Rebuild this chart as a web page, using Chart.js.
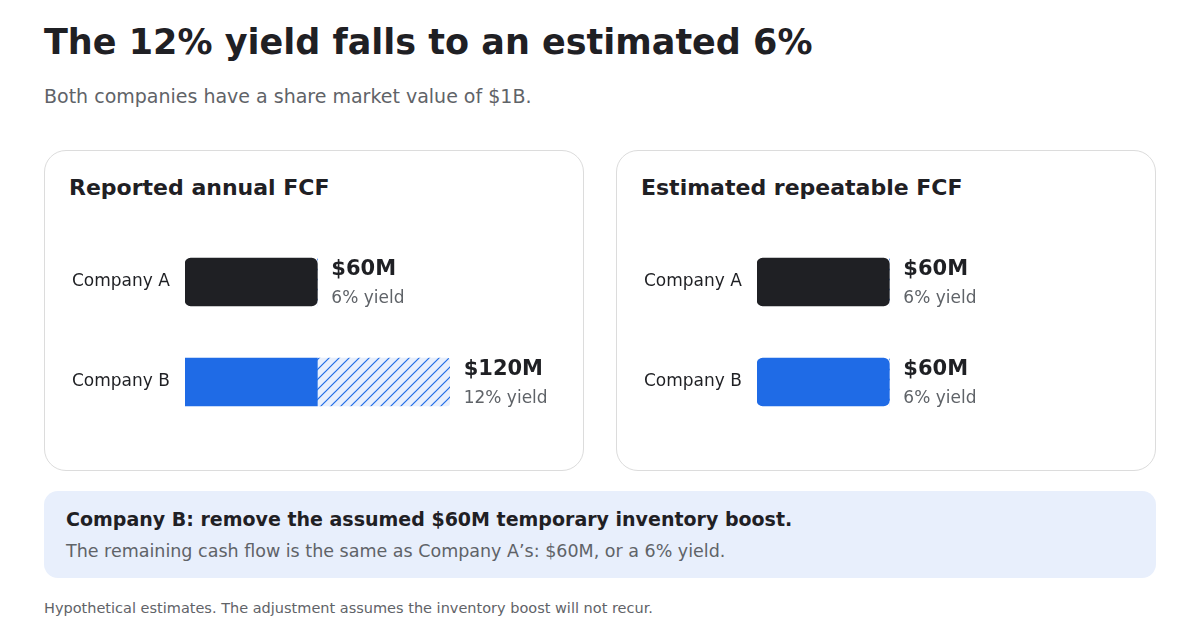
<!DOCTYPE html>
<html>
<head>
<meta charset="utf-8">
<script src="https://cdn.jsdelivr.net/npm/chart.js@4"></script>
<style>
body{margin:0;background:#fff;font-family:"DejaVu Sans",sans-serif;color:#1f2024;}
.wrap{position:relative;width:1200px;height:640px;}
h1{position:absolute;left:44px;top:22px;margin:0;font-size:35px;font-weight:bold;}
.sub{position:absolute;left:44px;top:85px;font-size:19px;color:#5f6368;}
.card{position:absolute;top:150px;width:538px;height:319px;border:1px solid #dcdcdc;border-radius:22px;}
.card h2{position:absolute;left:24px;top:24px;margin:0;font-size:22px;font-weight:bold;}
.card canvas{position:absolute;left:0;top:81px;}
.note{position:absolute;left:44px;top:491px;width:1112px;height:87px;background:#e8effc;border-radius:14px;}
.note b{position:absolute;left:22px;top:17px;font-size:19px;}
.note span{position:absolute;left:22px;top:50px;font-size:17.5px;color:#5f6368;}
.foot{position:absolute;left:44px;top:600px;font-size:14.5px;color:#5f6368;}
</style>
</head>
<body>
<div class="wrap">
<h1>The 12% yield falls to an estimated 6%</h1>
<div class="sub">Both companies have a share market value of $1B.</div>
<div class="card" style="left:44px"><h2>Reported annual FCF</h2><canvas id="c1" width="540" height="200"></canvas></div>
<div class="card" style="left:616px"><h2>Estimated repeatable FCF</h2><canvas id="c2" width="540" height="200"></canvas></div>
<div class="note"><b>Company B: remove the assumed $60M temporary inventory boost.</b><span>The remaining cash flow is the same as Company A’s: $60M, or a 6% yield.</span></div>
<div class="foot">Hypothetical estimates. The adjustment assumes the inventory boost will not recur.</div>
</div>
<script>
var companies = ['Company A', 'Company B'];
var reportedBase = [60, 60];
var reportedBoost = [0, 60];
var reportedYield = ['6% yield', '12% yield'];
var repeatableBase = [60, 60];
var repeatableBoost = [0, 0];
var repeatableYield = ['6% yield', '6% yield'];

var dark = '#1f2024';
var blue = '#1f6be6';

function hatch(){
    var p = document.createElement('canvas');
    p.width = 10; p.height = 10;
    var g = p.getContext('2d');
    g.fillStyle = '#e8effc';
    g.fillRect(0,0,10,10);
    g.strokeStyle = blue;
    g.lineWidth = 1.2;
    g.beginPath();
    g.moveTo(0,10); g.lineTo(10,0);
    g.moveTo(-5,5); g.lineTo(5,-5);
    g.moveTo(5,15); g.lineTo(15,5);
    g.stroke();
    return g.createPattern(p, 'repeat');
}

var labelPlugin = {
    id: 'labels',
    afterDatasetsDraw: function(chart){
        var ctx = chart.ctx;
        var x = chart.scales.x, y = chart.scales.y;
        var yields = chart.options.plugins.labels.yields;
        ctx.save();
        companies.forEach(function(name, i){
            var cy = y.getPixelForValue(i);
            ctx.textBaseline = 'middle';
            ctx.fillStyle = dark;
            ctx.font = '17px "DejaVu Sans"';
            ctx.fillText(name, 27, cy);
            var total = chart.data.datasets[0].data[i] + chart.data.datasets[1].data[i];
            var ex = x.getPixelForValue(total) + 14;
            ctx.font = 'bold 21px "DejaVu Sans"';
            ctx.fillText('$' + total + 'M', ex, cy - 12);
            ctx.font = '17px "DejaVu Sans"';
            ctx.fillStyle = '#5f6368';
            ctx.fillText(yields[i], ex, cy + 17);
        });
        ctx.restore();
    }
};

function makeChart(id, base, boost, yields){
    new Chart(document.getElementById(id), {
        type: 'bar',
        data: {
            labels: companies,
            datasets: [
                {
                    data: base,
                    backgroundColor: [dark, blue],
                    borderRadius: 6,
                    borderSkipped: false,
                    barThickness: 48
                },
                {
                    data: boost,
                    backgroundColor: hatch(),
                    borderRadius: {topLeft: 0, bottomLeft: 0, topRight: 3, bottomRight: 3},
                    borderSkipped: false,
                    barThickness: 48
                }
            ]
        },
        options: {
            indexAxis: 'y',
            responsive: false,
            animation: false,
            layout: {padding: {left: 140, right: 3, top: 0, bottom: 0}},
            scales: {
                x: {stacked: true, display: false, min: 0, max: 180},
                y: {stacked: true, display: false}
            },
            plugins: {
                legend: {display: false},
                tooltip: {enabled: false},
                labels: {yields: yields}
            }
        },
        plugins: [labelPlugin]
    });
}

makeChart('c1', reportedBase, reportedBoost, reportedYield);
makeChart('c2', repeatableBase, repeatableBoost, repeatableYield);
</script>
</body>
</html>
